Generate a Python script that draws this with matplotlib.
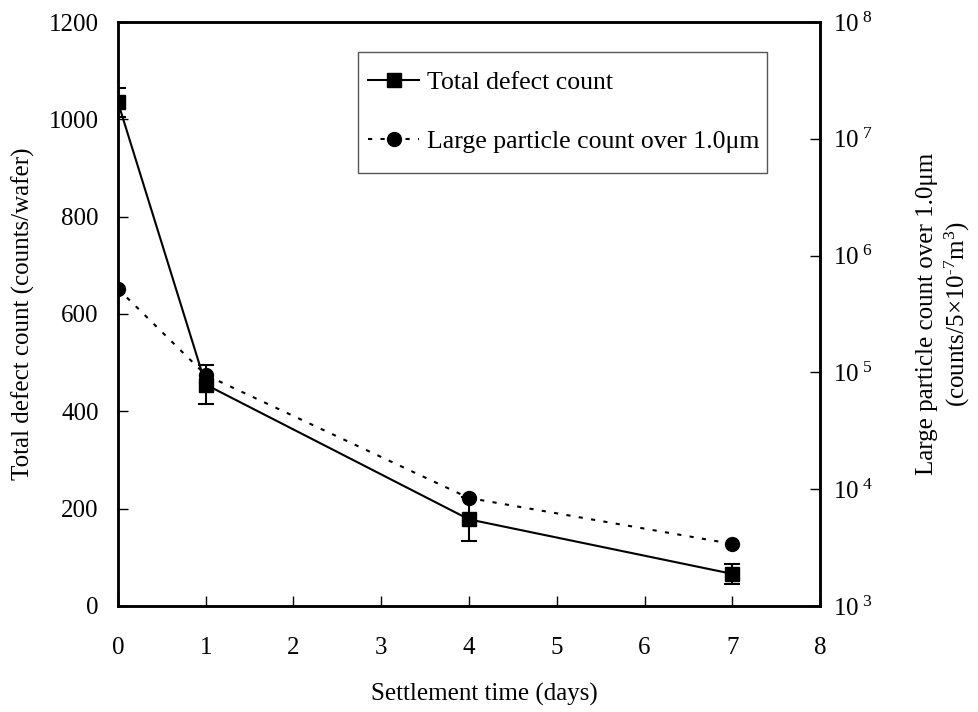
import matplotlib
matplotlib.use("Agg")
import matplotlib.pyplot as plt
from matplotlib.lines import Line2D
from matplotlib.patches import Rectangle
import numpy as np

plt.rcParams['font.family'] = ['Liberation Serif', 'DejaVu Serif']
plt.rcParams['mathtext.fontset'] = 'custom'
plt.rcParams['mathtext.rm'] = 'Liberation Serif'
plt.rcParams['mathtext.it'] = 'Liberation Serif:italic'

# Settlement time (days)
days = [0, 1, 4, 7]
# Total defect count (counts/wafer) with error half-widths
defect_count = [1035, 455, 178, 66]
defect_err = [30, 40, 45, 21]
# Large particle count over 1.0 um (counts / 5e-7 m^3)
particle_count = [5.2e5, 9.5e4, 8.4e3, 3.4e3]

x_ticks = [0, 1, 2, 3, 4, 5, 6, 7, 8]
left_ticks = [0, 200, 400, 600, 800, 1000, 1200]
right_exponents = [3, 4, 5, 6, 7, 8]

fs = 18
fig = plt.figure(figsize=(9.79, 7.12), dpi=100)
ax = fig.add_axes([0.1205, 0.1489, 0.7171, 0.8202])
ax2 = ax.twinx()

ax.errorbar(days, defect_count, yerr=defect_err, color='black', lw=1.5,
            marker='s', markersize=10, capsize=6, capthick=1.5, elinewidth=1.5,
            zorder=3)
ax2.plot(days, particle_count, color='black', lw=1.5, linestyle=(0, (2, 4)),
         marker='o', markersize=10, zorder=3)

ax.set_xlim(0, 8)
ax.set_ylim(0, 1200)
ax.set_xticks(x_ticks)
ax.set_yticks(left_ticks)
ax2.set_yscale('log')
ax2.set_ylim(1e3, 1e8)
ax2.set_yticks([10.0 ** e for e in right_exponents])
ax2.set_yticklabels([r'$\mathregular{10^{\ %d}}$' % e for e in right_exponents])
ax2.yaxis.set_minor_locator(matplotlib.ticker.NullLocator())

for a in (ax, ax2):
    for s in a.spines.values():
        s.set_linewidth(1.8)
ax.tick_params(axis='x', direction='in', length=7, width=1, pad=22, labelsize=fs)
ax.tick_params(axis='y', direction='in', length=7, width=1, pad=14, labelsize=fs)
ax2.tick_params(axis='y', direction='in', length=7, width=1, pad=9, labelsize=fs)

fig.text(0.495, 0.016, 'Settlement time (days)', fontsize=fs, ha='center', va='baseline')
ax.set_ylabel('Total defect count (counts/wafer)', fontsize=fs)
ax.yaxis.set_label_coords(-0.118, 0.5)
ax2.set_ylabel('Large particle count over 1.0\u03bcm\n(counts/5\u00d710$^{\\text{-}7}$m$^{3}$)',
               fontsize=fs, multialignment='center', rotation=90)
ax2.yaxis.set_label_coords(1.137, 0.5)

# Legend frame and entries
ax2.add_patch(Rectangle((0.342, 0.7414), 0.5825, 0.2072, transform=ax2.transAxes,
                        facecolor='white', edgecolor='#555555', lw=1.0, zorder=4))
handles = [
    Line2D([], [], color='black', lw=1.5, marker='s', markersize=10),
    Line2D([], [], color='black', lw=1.5, linestyle=(0, (2, 4)), marker='o', markersize=10),
]
labels = ['Total defect count', 'Large particle count over 1.0\u03bcm']
leg = ax2.legend(handles, labels, loc='center left', bbox_to_anchor=(0.356, 0.846),
                 fontsize=18.5, frameon=False,
                 handlelength=2.0, handletextpad=0.3, labelspacing=1.37,
                 borderpad=0, borderaxespad=0)
leg.set_zorder(5)

fig.savefig('out.png', dpi=100)
